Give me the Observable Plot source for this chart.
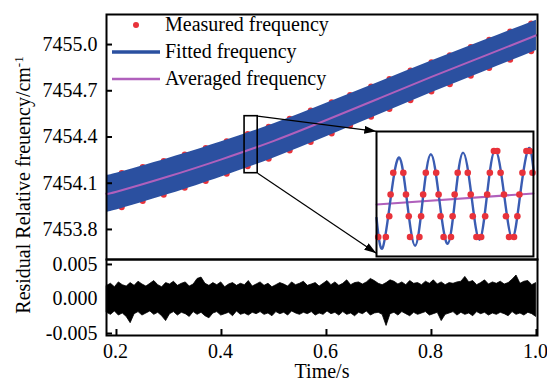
<!DOCTYPE html>
<html><head><meta charset="utf-8">
<script src="https://cdn.jsdelivr.net/npm/d3@7"></script>
<script src="https://cdn.jsdelivr.net/npm/@observablehq/plot@0.6"></script>
<style>
body{margin:0;background:#fff;}
#fig{position:relative;width:547px;height:385px;font-family:"Liberation Serif","Times New Roman",serif;background:#fff;}
#fig svg{position:absolute;overflow:visible;}
</style></head><body><div id="fig"></div>
<script>
// ---------- data ----------
// main panel: fitted-frequency band envelope and averaged frequency
const tGrid   = [0.181, 0.2, 0.3, 0.4, 0.5, 0.6, 0.7, 0.8, 0.9, 1.0];
const avgFreq = [7454.034, 7454.045, 7454.145, 7454.255, 7454.375, 7454.51, 7454.65, 7454.79, 7454.925, 7455.06];
const fitUpper = [7454.154, 7454.165, 7454.262, 7454.369, 7454.486, 7454.619, 7454.756, 7454.893, 7455.026, 7455.158];
const fitLower = [7453.914, 7453.926, 7454.028, 7454.141, 7454.264, 7454.401, 7454.544, 7454.687, 7454.824, 7454.962];

// measured points visible at the band edges
const measT  = [0.21, 0.25, 0.29, 0.33, 0.37, 0.41, 0.45, 0.49, 0.53, 0.57, 0.61, 0.645, 0.685, 0.72, 0.76, 0.80, 0.835, 0.875, 0.91, 0.95, 0.99];
const measHi = [7454.166, 7454.205, 7454.244, 7454.286, 7454.329, 7454.373, 7454.420, 7454.467, 7454.519, 7454.572, 7454.625, 7454.673, 7454.728, 7454.776, 7454.831, 7454.885, 7454.931, 7454.984, 7455.031, 7455.084, 7455.137];
const measLo = [7453.944, 7453.985, 7454.026, 7454.070, 7454.115, 7454.161, 7454.210, 7454.259, 7454.313, 7454.368, 7454.423, 7454.474, 7454.531, 7454.581, 7454.638, 7454.695, 7454.743, 7454.798, 7454.847, 7454.902, 7454.957];

// zoom window and inset placement (data coordinates of main panel)
const zoomT = [0.444, 0.469];
const zoomF = [7454.165, 7454.535];
const insetT = [0.695, 0.994];
const insetF = [7453.626, 7454.437];

// inset: zoomed fitted curve (time in ms within window, freq offset in 1e-3 cm-1)
const sineT = [0, 0.95, 2.28, 3.60, 4.82, 6.10, 7.31, 8.59, 9.91, 11.24, 12.46, 13.67, 15.00, 16.27, 17.49, 18.76, 20.14, 21.47, 22.74, 24.01, 24.8];
const sineF = [-65, -155, 0, 115, -15, -148, -10, 125, -8, -142, -2, 130, 2, -130, 8, 138, 8, -125, 10, 142, 80];
const inDotT = [0.27, 1.48, 2.01, 2.23, 2.65, 4.24, 4.66, 5.09, 5.30, 6.78, 7.05, 7.37, 7.79, 9.43, 9.81, 10.12, 10.60, 11.77, 12.03, 12.35, 12.83, 14.42, 14.89, 15.21, 15.79, 16.54, 17.17, 17.49, 17.91, 18.55, 19.08, 19.61, 20.14, 20.46, 20.94, 21.73, 22.26, 22.58, 23.06, 23.69, 24.22, 24.65];
const inDotF = [-122, -122, -60, 5, 70, 70, 5, -60, -122, -122, -60, 5, 70, 70, 5, -60, -122, -122, -60, 5, 70, 70, 5, -60, -122, -122, -60, 5, 70, 135, 135, 70, 5, -60, -122, -122, -60, 5, 70, 135, 135, 70];
const inAvgT = [0, 24.8];
const inAvgF = [-25, 8];

// residual envelope (x 1e-3 cm-1), sampled every 7.5 ms from 0.182 s
const resStart = 0.182, resStep = 0.0075;
const resUpper = [1.9,2.2,1.7,2.4,2.0,1.8,2.3,1.9,2.5,2.1, 1.8,2.2,2.6,2.0,1.7,2.3,2.1,2.5,1.9,2.2,
  2.4,1.8,2.1,2.9,3.1,2.2,1.9,2.3,2.0,2.4, 1.7,2.1,2.3,1.9,2.2,2.0,2.6,1.8,2.1,2.4,
  1.9,2.2,1.7,2.0,2.3,2.1,1.8,2.4,2.0,2.2, 2.5,1.9,2.1,2.3,1.8,2.2,2.6,2.0,2.4,1.9,
  2.2,2.7,2.0,2.3,2.4,2.1,2.4,2.9,2.6,2.2, 2.0,2.3,2.7,2.5,2.1,2.4,2.0,2.6,2.2,2.3,
  2.0,2.5,2.2,2.7,2.1,2.4,2.0,2.3,2.2,2.4, 2.5,3.2,2.4,2.6,2.0,2.3,2.7,2.1,2.4,2.2,
  2.5,2.1,2.3,2.8,3.4,2.2,2.5,2.6,2.0,2.3];
const resLower = [-2.0,-2.3,-1.8,-2.4,-2.1,-2.6,-3.5,-2.2,-1.9,-2.4, -2.1,-1.8,-2.3,-2.0,-2.5,-3.2,-2.2,-1.9,-2.4,-2.0,
  -2.2,-2.6,-1.9,-2.3,-2.0,-2.5,-2.8,-2.1,-1.9,-2.4, -2.2,-2.0,-2.5,-1.8,-2.3,-2.1,-2.4,-2.0,-2.2,-1.9,
  -2.3,-2.1,-2.5,-1.9,-2.2,-2.0,-2.4,-1.8,-2.1,-2.3, -2.0,-2.2,-1.9,-2.4,-2.1,-2.3,-1.8,-2.2,-2.0,-2.4,
  -1.9,-2.3,-2.1,-2.5,-2.0,-2.2,-1.8,-2.4,-2.1,-2.0, -2.3,-3.9,-2.2,-2.0,-2.4,-1.9,-2.2,-2.5,-2.0,-2.3,
  -2.1,-1.9,-2.4,-2.2,-2.0,-3.2,-2.3,-2.1,-1.9,-2.4, -2.0,-2.3,-2.1,-2.5,-1.9,-2.2,-2.0,-2.4,-2.1,-2.3,
  -2.0,-2.2,-2.5,-1.9,-2.3,-2.1,-2.4,-2.0,-2.2,-2.6];

const mainTicks = [7453.8, 7454.1, 7454.4, 7454.7, 7455.0];
const resTicks = [-0.005, 0, 0.005];
const xTicks = [0.2, 0.4, 0.6, 0.8, 1.0];

// ---------- styling ----------
const BLUE = "#2b50a0", MAGENTA = "#b060bc", RED = "#e8323a", FONT = "Liberation Serif";
const W = 547, XDOM = [0.181, 1.002];

// ---------- tables ----------
const band = tGrid.map((t, i) => ({t, hi: fitUpper[i], lo: fitLower[i], avg: avgFreq[i]}));
const meas = measT.flatMap((t, i) => [{t, f: measHi[i]}, {t, f: measLo[i]}]);
const zoomBox = [{x1: zoomT[0], x2: zoomT[1], y1: zoomF[0], y2: zoomF[1]}];
const arrows = [
  {x1: zoomT[1], y1: zoomF[1], x2: insetT[0], y2: insetF[1]},
  {x1: zoomT[1], y1: zoomF[0], x2: insetT[0], y2: insetF[0] + 0.02}
];
const res = resUpper.map((u, i) => ({t: resStart + resStep * i, hi: u / 1000, lo: resLower[i] / 1000}));

const fig = document.getElementById("fig");

// ---------- main panel ----------
const main = Plot.plot({
  width: W, height: 260, marginLeft: 106, marginRight: 10, marginTop: 14, marginBottom: 1,
  style: {fontFamily: FONT, background: "transparent", color: "#000", overflow: "visible"},
  x: {domain: XDOM, axis: null, label: null},
  y: {domain: [7453.605, 7455.195], label: null},
  marks: [
    Plot.dot(meas, {x: "t", y: "f", r: 3, fill: RED}),
    Plot.areaY(band, {x: "t", y1: "lo", y2: "hi", fill: BLUE, curve: "natural"}),
    Plot.line(band, {x: "t", y: "avg", stroke: MAGENTA, strokeWidth: 2, curve: "natural"}),
    Plot.rect(zoomBox, {x1: "x1", x2: "x2", y1: "y1", y2: "y2", fill: "none", stroke: "black", strokeWidth: 1.6}),
    Plot.link(arrows, {x1: "x1", y1: "y1", x2: "x2", y2: "y2", stroke: "black", strokeWidth: 1.2}),
    Plot.axisY({ticks: mainTicks, tickSize: 0, tickPadding: 9, tickFormat: d => d.toFixed(1), fontSize: 20, fontFamily: FONT, label: null}),
    Plot.axisY({ticks: mainTicks, tickSize: 6, dx: 6, tickFormat: () => "", strokeWidth: 2, label: null}),
    Plot.frame({stroke: "black", strokeWidth: 2})
  ]
});
main.style.left = "0px"; main.style.top = "0px";
fig.appendChild(main);

// filled arrow heads
const msvg = d3.select(main);
msvg.append("defs").append("marker")
  .attr("id", "tri").attr("viewBox", "0 0 12 8").attr("refX", 12).attr("refY", 4)
  .attr("markerWidth", 12).attr("markerHeight", 8).attr("markerUnits", "userSpaceOnUse").attr("orient", "auto")
  .append("path").attr("d", "M0,0L12,4L0,8Z").attr("fill", "black");
msvg.selectAll('g[aria-label="link"] path').attr("marker-end", "url(#tri)");

// ---------- residual panel ----------
const resid = Plot.plot({
  width: W, height: 126, marginLeft: 106, marginRight: 10, marginTop: 0, marginBottom: 50,
  style: {fontFamily: FONT, background: "transparent", color: "#000", overflow: "visible"},
  x: {domain: XDOM, label: null},
  y: {domain: [-0.00529, 0.00572], label: null},
  marks: [
    Plot.areaY(res, {x: "t", y1: "lo", y2: "hi", fill: "black", stroke: "black", strokeWidth: 0.8, curve: "linear"}),
    Plot.axisY({ticks: resTicks, tickSize: 0, tickPadding: 9, tickFormat: d => d.toFixed(3), fontSize: 20, fontFamily: FONT, label: null}),
    Plot.axisY({ticks: resTicks, tickSize: 6, dx: 6, tickFormat: () => "", strokeWidth: 2, label: null}),
    Plot.axisX({ticks: xTicks, tickSize: 0, tickPadding: 8, tickFormat: d => d.toFixed(1), fontSize: 20, fontFamily: FONT, label: null, dx: -1}),
    Plot.axisX({ticks: xTicks, tickSize: 6, dy: -6, tickFormat: () => "", strokeWidth: 2, label: null}),
    Plot.text(["Time/s"], {text: d => d, frameAnchor: "bottom", dy: 42, fontSize: 20, fontFamily: FONT}),
    Plot.frame({stroke: "black", strokeWidth: 2})
  ]
});
resid.style.left = "0px"; resid.style.top = "259px";
fig.appendChild(resid);

// ---------- inset ----------
const sx = main.scale("x"), sy = main.scale("y");
const iL = sx.apply(insetT[0]), iR = sx.apply(insetT[1]);
const iT = sy.apply(insetF[1]), iB = sy.apply(insetF[0]);
const sine = sineT.map((t, i) => ({t, f: sineF[i]}));
const inDots = inDotT.map((t, i) => ({t, f: inDotF[i]}));
const inAvg = inAvgT.map((t, i) => ({t, f: inAvgF[i]}));
const inset = Plot.plot({
  width: iR - iL, height: iB - iT, margin: 0,
  style: {background: "transparent", overflow: "visible"},
  x: {domain: [0, 24.8], axis: null},
  y: {domain: [-180, 193], axis: null},
  marks: [
    Plot.frame({fill: "white"}),
    Plot.line(inAvg, {x: "t", y: "f", stroke: MAGENTA, strokeWidth: 2}),
    Plot.line(sine, {x: "t", y: "f", stroke: "#3a5cb2", strokeWidth: 2.4, curve: "natural"}),
    Plot.dot(inDots, {x: "t", y: "f", r: 3.3, fill: RED}),
    Plot.frame({stroke: "black", strokeWidth: 2})
  ]
});
inset.style.left = iL + "px"; inset.style.top = iT + "px";
fig.appendChild(inset);

// ---------- legend & y label ----------
const ov = d3.select(fig).append("svg").attr("width", W).attr("height", 385)
  .style("left", "0px").style("top", "0px").style("pointer-events", "none")
  .attr("font-family", FONT).attr("font-size", 20);
const leg = [
  {kind: "dot", label: "Measured frequency", color: RED, y: 25},
  {kind: "line", label: "Fitted frequency", color: BLUE, y: 52, w: 3.5},
  {kind: "line", label: "Averaged frequency", color: MAGENTA, y: 79, w: 2.5}
];
leg.forEach(d => {
  if (d.kind === "dot") ov.append("circle").attr("cx", 136).attr("cy", d.y).attr("r", 3).attr("fill", d.color);
  else ov.append("line").attr("x1", 112).attr("x2", 160).attr("y1", d.y).attr("y2", d.y).attr("stroke", d.color).attr("stroke-width", d.w);
  ov.append("text").attr("x", 165).attr("y", d.y + 6).text(d.label);
});
const yl = ov.append("text").attr("transform", "translate(30,185) rotate(-90)").attr("text-anchor", "middle");
yl.append("tspan").text("Residual Relative freuency/cm");
yl.append("tspan").attr("baseline-shift", "super").attr("font-size", 13).text("-1");
</script></body></html>
